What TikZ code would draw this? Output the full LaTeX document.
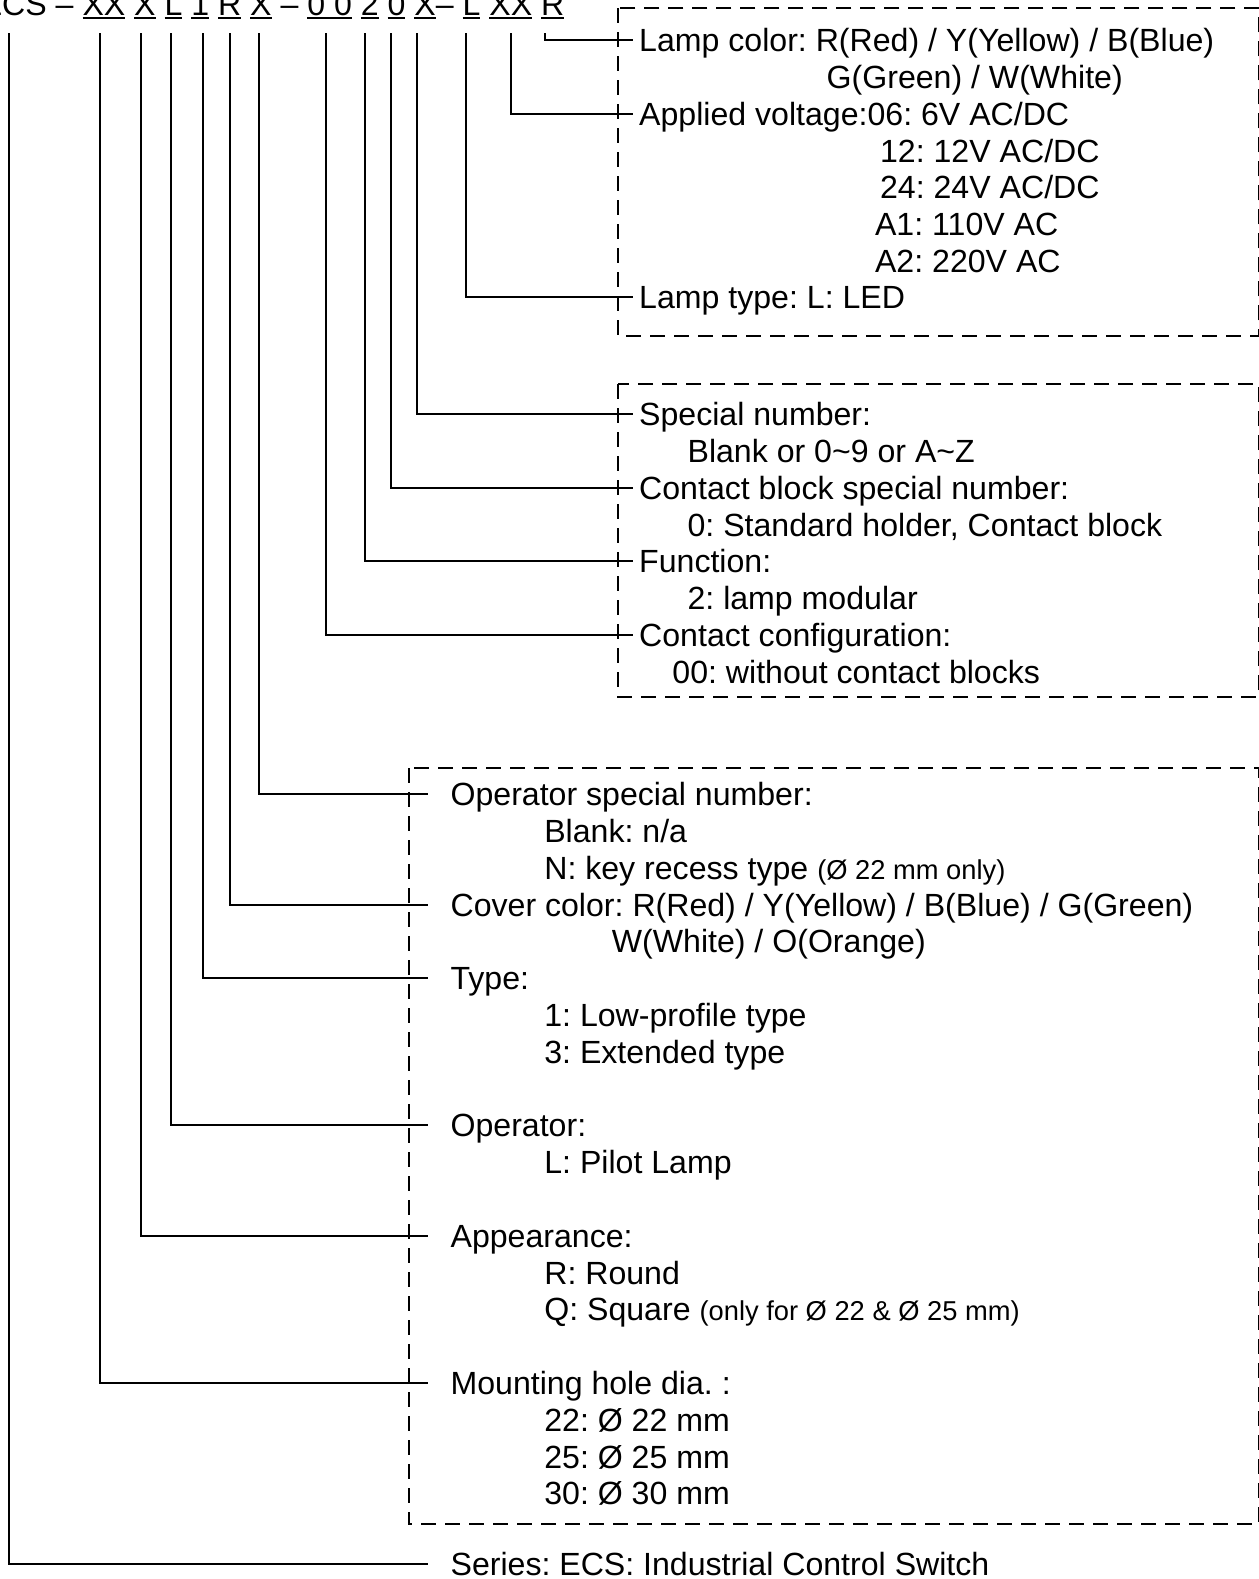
\documentclass[tikz,border=0pt]{standalone}
\usepackage{fontspec}
\setmainfont{Liberation Sans}
\frenchspacing
\newcommand\ulbox[1]{\setbox0\hbox{#1}\rlap{\rule[-4pt]{\wd0}{2.2pt}}\box0\relax}
\newcommand\smalltxt[1]{{\fontsize{27.3}{30}\selectfont #1}}
\begin{document}
\begin{tikzpicture}[x=1.008pt,y=-1.008pt,
  every node/.style={font=\fontsize{32.1}{36}\selectfont},
  lbl/.style={anchor=west, inner ysep=0pt, text height=23pt, text depth=0pt},
  lt/.style={lbl, inner xsep=6pt},
  lb/.style={lbl, inner xsep=22pt},
  wire/.style={line width=2pt},
  frame/.style={line width=2pt, dash pattern=on 15pt off 9pt}]
\useasboundingbox (0,0) rectangle (1249,1566.5);

% header code
\node[anchor=base east, inner sep=0pt] (code) at (560,15)
  {ECS – \ulbox{XX} \ulbox{X} \ulbox{L} \ulbox{1} \ulbox{R} \ulbox{X} – \ulbox{0 0} \ulbox{2} \ulbox{0} \ulbox{X}– \ulbox{L} \ulbox{XX} \ulbox{R}};

% frames
\draw[frame] (613,8) rectangle (1249,333);
\draw[frame] (613,381) rectangle (1249,691);
\draw[frame] (406,762) rectangle (1249,1512);

% top box
\node[lt] (d1) at (628,40) {Lamp color: R(Red) / Y(Yellow) / B(Blue)};
\node[lt] (d1b) at (814,76.5) {G(Green) / W(White)};
\node[lt] (d2) at (628,113) {Applied voltage:06: 6V AC/DC};
\node[lt] (d2b) at (867,149.5) {12: 12V AC/DC};
\node[lt] (d2c) at (867,186) {24: 24V AC/DC};
\node[lt] (d2d) at (862,222.5) {A1: 110V AC};
\node[lt] (d2e) at (862,259) {A2: 220V AC};
\node[lt] (d3) at (628,295) {Lamp type: L: LED};

% middle box
\node[lt] (d4) at (628,411) {Special number:};
\node[lt] (d4b) at (676,447.5) {Blank or 0\textasciitilde 9 or A\textasciitilde Z};
\node[lt] (d5) at (628,484) {Contact block special number:};
\node[lt] (d5b) at (676,520.5) {0: Standard holder, Contact block};
\node[lt] (d6) at (628,557) {Function:};
\node[lt] (d6b) at (676,593.5) {2: lamp modular};
\node[lt] (d7) at (628,630) {Contact configuration:};
\node[lt] (d7b) at (661,666.5) {00: without contact blocks};

% bottom box
\node[lb] (d8) at (425,788) {Operator special number:};
\node[lb] (d8b) at (518,824.5) {Blank: n/a};
\node[lb] (d8c) at (518,861) {N: key recess type \smalltxt{(Ø 22 mm only)}};
\node[lb] (d9) at (425,897.5) {Cover color: R(Red) / Y(Yellow) / B(Blue) / G(Green)};
\node[lb] (d9b) at (585,934) {W(White) / O(Orange)};
\node[lb] (d10) at (425,970.5) {Type:};
\node[lb] (d10b) at (518,1007) {1: Low-profile type};
\node[lb] (d10c) at (518,1043.5) {3: Extended type};
\node[lb] (d11) at (425,1116.5) {Operator:};
\node[lb] (d11b) at (518,1153) {L: Pilot Lamp};
\node[lb] (d12) at (425,1226) {Appearance:};
\node[lb] (d12b) at (518,1262.5) {R: Round};
\node[lb] (d12c) at (518,1299) {Q: Square \smalltxt{(only for Ø 22 \& Ø 25 mm)}};
\node[lb] (d13) at (425,1372) {Mounting hole dia. :};
\node[lb] (d13b) at (518,1408.5) {22: Ø 22 mm};
\node[lb] (d13c) at (518,1445) {25: Ø 25 mm};
\node[lb] (d13d) at (518,1481.5) {30: Ø 30 mm};
\node[lb] (d14) at (425,1552) {Series: ECS: Industrial Control Switch};

% connector tops
\coordinate (c1) at (541,33);
\coordinate (c2) at (507,33);
\coordinate (c3) at (462,33);
\coordinate (c4) at (414,33);
\coordinate (c5) at (388,33);
\coordinate (c6) at (362,33);
\coordinate (c7) at (323,33);
\coordinate (c8) at (257,33);
\coordinate (c9) at (228,33);
\coordinate (c10) at (201,33);
\coordinate (c11) at (170,33);
\coordinate (c12) at (140,33);
\coordinate (c13) at (99,33);
\coordinate (c14) at (9,33);

\foreach \i in {1,...,14} {\draw[wire] (c\i) |- (d\i.west);}
\end{tikzpicture}
\end{document}
